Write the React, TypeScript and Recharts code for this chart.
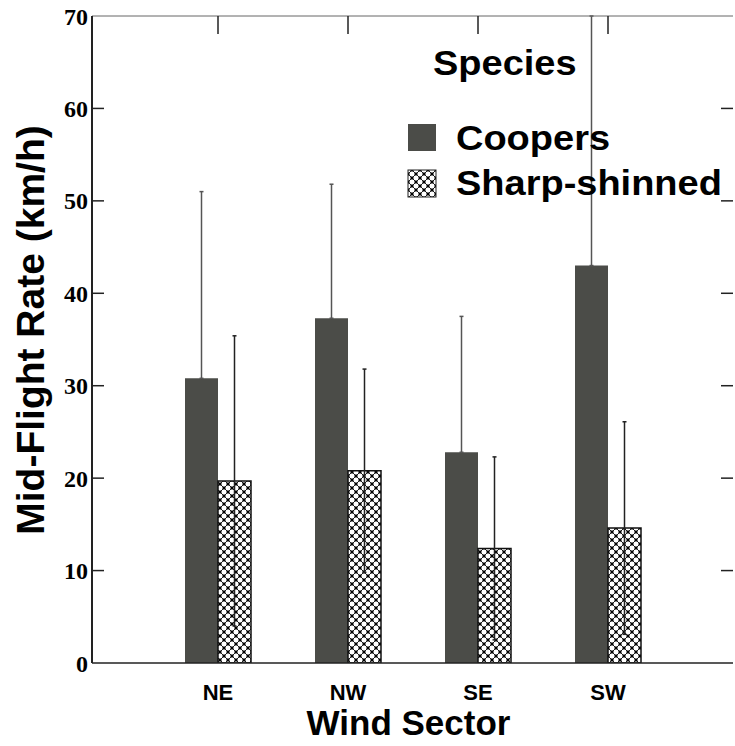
import { BarChart, Bar, XAxis, YAxis, ErrorBar, Legend, Label } from "recharts";

const sectors = ["NE", "NW", "SE", "SW"];
const coopersMean = [30.8, 37.3, 22.8, 43.0];
const coopersSd = [20.2, 14.5, 14.7, 27.0];
const sharpMean = [19.7, 20.8, 12.4, 14.6];
const sharpSd = [15.7, 11.0, 9.9, 11.5];
const yTicks = [0, 10, 20, 30, 40, 50, 60, 70];

const SANS = "'Liberation Sans', Arial, Helvetica, sans-serif";
const SERIF = "'Liberation Serif', 'Times New Roman', serif";
const COOPERS = "#4b4c48";
const AXIS = "#222";
const CHART_W = 735;
const MARGIN = { top: 15, right: 1, bottom: 53, left: 32 };
const LEFT_AXIS_W = 60;
const RIGHT_AXIS_W = 1;
const PLOT_W = CHART_W - MARGIN.left - MARGIN.right - LEFT_AXIS_W - RIGHT_AXIS_W;

// Coopers error bars only show upward in the original, so low side is 0
const data = sectors.map((sector, i) => ({
  sector,
  coopers: coopersMean[i],
  coopersErr: [0, coopersSd[i]],
  sharp: sharpMean[i],
  sharpErr: sharpSd[i],
}));

function HatchPattern({ id }: { id: string }) {
  return (
    <pattern id={id} width={8} height={8} patternUnits="userSpaceOnUse">
      <rect width={8} height={8} fill="#fff" />
      <path d="M0,0 L8,8 M8,0 L0,8" stroke="#222" strokeWidth={1} />
      <rect x={2.5} y={2.5} width={3} height={3} fill="#000" />
      <rect x={-1.5} y={-1.5} width={3} height={3} fill="#000" />
      <rect x={6.5} y={-1.5} width={3} height={3} fill="#000" />
      <rect x={-1.5} y={6.5} width={3} height={3} fill="#000" />
      <rect x={6.5} y={6.5} width={3} height={3} fill="#000" />
    </pattern>
  );
}

// original text looks slightly stretched horizontally
function WideText({ x, y, size, children }: { x: number; y: number; size: number; children: any }) {
  return (
    <text
      transform={`translate(${x}, ${y}) scale(1.055, 1)`}
      fontFamily={SANS}
      fontWeight={700}
      fontSize={size}
      fill="#000"
    >
      {children}
    </text>
  );
}

function SpeciesLegend(props: any) {
  const payload = props.payload ?? [];
  return (
    <svg width={335} height={180} style={{ display: "block" }}>
      <defs>
        <HatchPattern id="hatch-legend" />
      </defs>
      <WideText x={33} y={45} size={36}>
        Species
      </WideText>
      {payload.map((entry: any, i: number) => (
        <g key={entry.value}>
          <rect
            x={8}
            y={94 + i * 46}
            width={28}
            height={27}
            fill={i === 0 ? COOPERS : "url(#hatch-legend)"}
            stroke={i === 0 ? "none" : "#222"}
            strokeWidth={1}
          />
          <WideText x={56} y={120 + i * 45} size={36}>
            {entry.value}
          </WideText>
        </g>
      ))}
    </svg>
  );
}

// inward ticks on both side spines, drawn from the right axis tick positions
function SideTicks(props: any) {
  const x = Number(props.x);
  const y = Number(props.y);
  const v = Number(props.payload.value);
  if (v <= 0 || v >= 70) return <g />;
  const lx = x - PLOT_W;
  return (
    <g>
      <line x1={x - 12} x2={x} y1={y} y2={y} stroke={AXIS} strokeWidth={1.5} />
      <line x1={lx} x2={lx + 12} y1={y} y2={y} stroke={AXIS} strokeWidth={1.5} />
    </g>
  );
}

function TopTick(props: any) {
  const x = Number(props.x);
  const y = Number(props.y);
  return <line x1={x} x2={x} y1={y} y2={y + 18} stroke={AXIS} strokeWidth={1.5} />;
}

function AxisTitles(p: any) {
  const vb = p.viewBox;
  const yx = vb.x - 48;
  const yy = vb.y - 333;
  return (
    <g>
      <text
        x={vb.x + vb.width / 2 - 4}
        y={vb.y + 72}
        textAnchor="middle"
        fontFamily={SANS}
        fontWeight={700}
        fontSize={35}
        fill="#000"
      >
        Wind Sector
      </text>
      <text
        x={yx}
        y={yy}
        transform={`rotate(-90, ${yx}, ${yy})`}
        textAnchor="middle"
        fontFamily={SANS}
        fontWeight={700}
        fontSize={39}
        fill="#000"
      >
        Mid-Flight Rate (km/h)
      </text>
    </g>
  );
}

export default function App() {
  return (
    <div style={{ position: "absolute", left: 0, top: 0, background: "#fff" }}>
      <BarChart
        width={CHART_W}
        height={746}
        data={data}
        margin={MARGIN}
        barGap={0}
        barSize={33}
      >
        <defs>
          <HatchPattern id="hatch" />
        </defs>
        <XAxis
          dataKey="sector"
          padding={{ left: 61, right: 60 }}
          height={30}
          interval={0}
          tickLine={false}
          tickSize={0}
          tickMargin={21}
          stroke={AXIS}
          strokeWidth={1.5}
          tick={{ fontFamily: SANS, fontWeight: 700, fontSize: 22, fill: "#000" }}
        >
          <Label content={AxisTitles} />
        </XAxis>
        <XAxis
          xAxisId="top"
          orientation="top"
          dataKey="sector"
          padding={{ left: 61, right: 60 }}
          height={1}
          interval={0}
          tickLine={false}
          tickSize={0}
          tickMargin={0}
          tick={TopTick}
        />
        <YAxis
          domain={[0, 70]}
          ticks={yTicks}
          allowDataOverflow
          width={LEFT_AXIS_W}
          interval={0}
          tickLine={false}
          tickSize={0}
          tickMargin={4}
          stroke={AXIS}
          strokeWidth={2}
          tick={{ fontFamily: SERIF, fontWeight: 700, fontSize: 24, fill: "#000" }}
        />
        <YAxis
          yAxisId="right"
          orientation="right"
          domain={[0, 70]}
          ticks={yTicks}
          allowDataOverflow
          width={RIGHT_AXIS_W}
          interval={0}
          tickLine={false}
          tickSize={0}
          tickMargin={0}
          tick={SideTicks}
          axisLine={false}
        />
        <Legend
          layout="vertical"
          align="center"
          verticalAlign="middle"
          wrapperStyle={{ position: "absolute", left: 400, top: 30, width: 335, height: 180 }}
          content={SpeciesLegend}
        />
        <Bar dataKey="coopers" name="Coopers" fill={COOPERS} isAnimationActive={false}>
          <ErrorBar dataKey="coopersErr" direction="y" width={2} stroke="#555" strokeWidth={1.5} />
        </Bar>
        <Bar
          dataKey="sharp"
          name="Sharp-shinned"
          fill="url(#hatch)"
          stroke="#111"
          strokeWidth={1.5}
          isAnimationActive={false}
        >
          <ErrorBar dataKey="sharpErr" direction="y" width={2} stroke="#222" strokeWidth={1.5} />
        </Bar>
      </BarChart>
    </div>
  );
}
